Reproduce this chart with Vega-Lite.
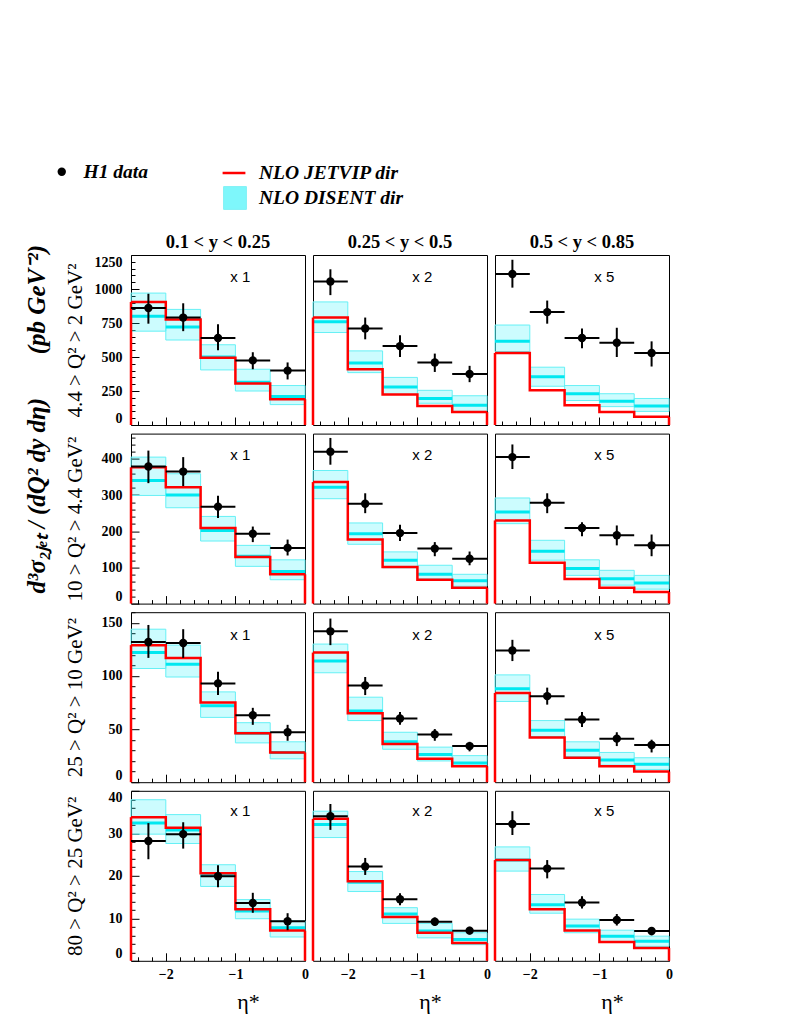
{
"$schema": "https://vega.github.io/schema/vega-lite/v6.json",
"padding": {"left": 24, "top": 160, "right": 5, "bottom": 5},
"background": "white",
"title": {"text": "d³σ₂ⱼₑₜ / (dQ² dy dη)\u00a0\u00a0\u00a0\u00a0\u00a0\u00a0\u00a0(pb GeV⁻²)", "orient": "left", "anchor": "end", "frame": "group", "font": "Liberation Serif", "fontSize": 25, "fontWeight": "bold", "fontStyle": "italic", "offset": 2, "dx": 10, "color": "#000"},
"datasets": {"h1": [
{"q":"r1","c":"0.1 < y < 0.25","f":"x 1","lo":-2.5,"hi":-2,"mid":-2.25,"d":860,"dl":745,"dh":965,"j":905,"m":800,"ml":690,"mh":970},
{"q":"r1","c":"0.1 < y < 0.25","f":"x 1","lo":-2,"hi":-1.5,"mid":-1.75,"d":790,"dl":690,"dh":895,"j":775,"m":720,"ml":625,"mh":850},
{"q":"r1","c":"0.1 < y < 0.25","f":"x 1","lo":-1.5,"hi":-1,"mid":-1.25,"d":640,"dl":550,"dh":740,"j":495,"m":500,"ml":405,"mh":590},
{"q":"r1","c":"0.1 < y < 0.25","f":"x 1","lo":-1,"hi":-0.5,"mid":-0.75,"d":475,"dl":410,"dh":535,"j":305,"m":315,"ml":250,"mh":410},
{"q":"r1","c":"0.1 < y < 0.25","f":"x 1","lo":-0.5,"hi":0,"mid":-0.25,"d":400,"dl":335,"dh":460,"j":190,"m":210,"ml":150,"mh":290},
{"q":"r1","c":"0.25 < y < 0.5","f":"x 2","lo":-2.5,"hi":-2,"mid":-2.25,"d":1055,"dl":955,"dh":1145,"j":790,"m":760,"ml":680,"mh":905},
{"q":"r1","c":"0.25 < y < 0.5","f":"x 2","lo":-2,"hi":-1.5,"mid":-1.75,"d":710,"dl":630,"dh":790,"j":410,"m":455,"ml":385,"mh":545},
{"q":"r1","c":"0.25 < y < 0.5","f":"x 2","lo":-1.5,"hi":-1,"mid":-1.25,"d":580,"dl":500,"dh":660,"j":225,"m":280,"ml":225,"mh":350},
{"q":"r1","c":"0.25 < y < 0.5","f":"x 2","lo":-1,"hi":-0.5,"mid":-0.75,"d":460,"dl":390,"dh":525,"j":140,"m":195,"ml":160,"mh":255},
{"q":"r1","c":"0.25 < y < 0.5","f":"x 2","lo":-0.5,"hi":0,"mid":-0.25,"d":375,"dl":315,"dh":435,"j":95,"m":145,"ml":100,"mh":215},
{"q":"r1","c":"0.5 < y < 0.85","f":"x 5","lo":-2.5,"hi":-2,"mid":-2.25,"d":1110,"dl":1010,"dh":1215,"j":530,"m":615,"ml":540,"mh":735},
{"q":"r1","c":"0.5 < y < 0.85","f":"x 5","lo":-2,"hi":-1.5,"mid":-1.75,"d":830,"dl":745,"dh":915,"j":255,"m":355,"ml":285,"mh":425},
{"q":"r1","c":"0.5 < y < 0.85","f":"x 5","lo":-1.5,"hi":-1,"mid":-1.25,"d":640,"dl":565,"dh":710,"j":145,"m":230,"ml":180,"mh":290},
{"q":"r1","c":"0.5 < y < 0.85","f":"x 5","lo":-1,"hi":-0.5,"mid":-0.75,"d":605,"dl":500,"dh":715,"j":95,"m":175,"ml":135,"mh":230},
{"q":"r1","c":"0.5 < y < 0.85","f":"x 5","lo":-0.5,"hi":0,"mid":-0.25,"d":530,"dl":430,"dh":615,"j":60,"m":140,"ml":100,"mh":195},
{"q":"r2","c":"0.1 < y < 0.25","f":"x 1","lo":-2.5,"hi":-2,"mid":-2.25,"d":379,"dl":333,"dh":423,"j":377,"m":340,"ml":299,"mh":405},
{"q":"r2","c":"0.1 < y < 0.25","f":"x 1","lo":-2,"hi":-1.5,"mid":-1.75,"d":365,"dl":325,"dh":405,"j":322,"m":300,"ml":265,"mh":359},
{"q":"r2","c":"0.1 < y < 0.25","f":"x 1","lo":-1.5,"hi":-1,"mid":-1.25,"d":268,"dl":237,"dh":298,"j":209,"m":202,"ml":173,"mh":241},
{"q":"r2","c":"0.1 < y < 0.25","f":"x 1","lo":-1,"hi":-0.5,"mid":-0.75,"d":193,"dl":170,"dh":213,"j":129,"m":131,"ml":103,"mh":161},
{"q":"r2","c":"0.1 < y < 0.25","f":"x 1","lo":-0.5,"hi":0,"mid":-0.25,"d":154,"dl":133,"dh":177,"j":81,"m":89,"ml":66,"mh":121},
{"q":"r2","c":"0.25 < y < 0.5","f":"x 2","lo":-2.5,"hi":-2,"mid":-2.25,"d":420,"dl":384,"dh":458,"j":336,"m":322,"ml":290,"mh":368},
{"q":"r2","c":"0.25 < y < 0.5","f":"x 2","lo":-2,"hi":-1.5,"mid":-1.75,"d":276,"dl":250,"dh":305,"j":177,"m":193,"ml":164,"mh":223},
{"q":"r2","c":"0.25 < y < 0.5","f":"x 2","lo":-1.5,"hi":-1,"mid":-1.25,"d":195,"dl":173,"dh":218,"j":101,"m":120,"ml":99,"mh":143},
{"q":"r2","c":"0.25 < y < 0.5","f":"x 2","lo":-1,"hi":-0.5,"mid":-0.75,"d":152,"dl":131,"dh":170,"j":66,"m":81,"ml":68,"mh":106},
{"q":"r2","c":"0.25 < y < 0.5","f":"x 2","lo":-0.5,"hi":0,"mid":-0.25,"d":124,"dl":106,"dh":144,"j":44,"m":63,"ml":48,"mh":81},
{"q":"r2","c":"0.5 < y < 0.85","f":"x 5","lo":-2.5,"hi":-2,"mid":-2.25,"d":405,"dl":372,"dh":440,"j":230,"m":253,"ml":221,"mh":292},
{"q":"r2","c":"0.5 < y < 0.85","f":"x 5","lo":-2,"hi":-1.5,"mid":-1.75,"d":279,"dl":250,"dh":305,"j":113,"m":145,"ml":120,"mh":175},
{"q":"r2","c":"0.5 < y < 0.85","f":"x 5","lo":-1.5,"hi":-1,"mid":-1.25,"d":209,"dl":186,"dh":225,"j":68,"m":97,"ml":78,"mh":121},
{"q":"r2","c":"0.5 < y < 0.85","f":"x 5","lo":-1,"hi":-0.5,"mid":-0.75,"d":189,"dl":161,"dh":216,"j":44,"m":69,"ml":51,"mh":92},
{"q":"r2","c":"0.5 < y < 0.85","f":"x 5","lo":-0.5,"hi":0,"mid":-0.25,"d":161,"dl":131,"dh":191,"j":32,"m":57,"ml":40,"mh":78},
{"q":"r3","c":"0.1 < y < 0.25","f":"x 1","lo":-2.5,"hi":-2,"mid":-2.25,"d":132,"dl":117,"dh":148,"j":129,"m":122,"ml":107,"mh":144},
{"q":"r3","c":"0.1 < y < 0.25","f":"x 1","lo":-2,"hi":-1.5,"mid":-1.75,"d":131,"dl":117,"dh":144,"j":117,"m":111,"ml":99,"mh":129},
{"q":"r3","c":"0.1 < y < 0.25","f":"x 1","lo":-1.5,"hi":-1,"mid":-1.25,"d":93,"dl":82,"dh":104,"j":75,"m":72,"ml":61,"mh":85},
{"q":"r3","c":"0.1 < y < 0.25","f":"x 1","lo":-1,"hi":-0.5,"mid":-0.75,"d":63,"dl":54,"dh":70,"j":46,"m":46,"ml":37,"mh":56},
{"q":"r3","c":"0.1 < y < 0.25","f":"x 1","lo":-0.5,"hi":0,"mid":-0.25,"d":47,"dl":39,"dh":54,"j":28,"m":28,"ml":22,"mh":38},
{"q":"r3","c":"0.25 < y < 0.5","f":"x 2","lo":-2.5,"hi":-2,"mid":-2.25,"d":142,"dl":129,"dh":154,"j":122,"m":114,"ml":103,"mh":130},
{"q":"r3","c":"0.25 < y < 0.5","f":"x 2","lo":-2,"hi":-1.5,"mid":-1.75,"d":91,"dl":82,"dh":99,"j":65,"m":67,"ml":58,"mh":80},
{"q":"r3","c":"0.25 < y < 0.5","f":"x 2","lo":-1.5,"hi":-1,"mid":-1.25,"d":60,"dl":54,"dh":66,"j":36,"m":38,"ml":31,"mh":47},
{"q":"r3","c":"0.25 < y < 0.5","f":"x 2","lo":-1,"hi":-0.5,"mid":-0.75,"d":45,"dl":39,"dh":50,"j":22,"m":26,"ml":20,"mh":33},
{"q":"r3","c":"0.25 < y < 0.5","f":"x 2","lo":-0.5,"hi":0,"mid":-0.25,"d":34,"dl":29,"dh":38,"j":15,"m":18,"ml":15,"mh":25},
{"q":"r3","c":"0.5 < y < 0.85","f":"x 5","lo":-2.5,"hi":-2,"mid":-2.25,"d":124,"dl":114,"dh":134,"j":84,"m":88,"ml":76,"mh":101},
{"q":"r3","c":"0.5 < y < 0.85","f":"x 5","lo":-2,"hi":-1.5,"mid":-1.75,"d":81,"dl":73,"dh":89,"j":42,"m":49,"ml":43,"mh":58},
{"q":"r3","c":"0.5 < y < 0.85","f":"x 5","lo":-1.5,"hi":-1,"mid":-1.25,"d":59,"dl":52,"dh":66,"j":23,"m":30,"ml":24,"mh":38},
{"q":"r3","c":"0.5 < y < 0.85","f":"x 5","lo":-1,"hi":-0.5,"mid":-0.75,"d":41,"dl":34,"dh":47,"j":15,"m":21,"ml":16,"mh":28},
{"q":"r3","c":"0.5 < y < 0.85","f":"x 5","lo":-0.5,"hi":0,"mid":-0.25,"d":35,"dl":28,"dh":40,"j":10,"m":17,"ml":12,"mh":23},
{"q":"r4","c":"0.1 < y < 0.25","f":"x 1","lo":-2.5,"hi":-2,"mid":-2.25,"d":28.2,"dl":23.9,"dh":32.4,"j":33.8,"m":32.4,"ml":29.8,"mh":37.9},
{"q":"r4","c":"0.1 < y < 0.25","f":"x 1","lo":-2,"hi":-1.5,"mid":-1.75,"d":29.8,"dl":26.4,"dh":32.6,"j":31.3,"m":30.8,"ml":27.6,"mh":34.4},
{"q":"r4","c":"0.1 < y < 0.25","f":"x 1","lo":-1.5,"hi":-1,"mid":-1.25,"d":19.9,"dl":17.3,"dh":22.5,"j":20.6,"m":20.1,"ml":17.5,"mh":22.6},
{"q":"r4","c":"0.1 < y < 0.25","f":"x 1","lo":-1,"hi":-0.5,"mid":-0.75,"d":13.6,"dl":11.3,"dh":16,"j":12.1,"m":11.7,"ml":9.9,"mh":14.4},
{"q":"r4","c":"0.1 < y < 0.25","f":"x 1","lo":-0.5,"hi":0,"mid":-0.25,"d":9.3,"dl":7.2,"dh":11.2,"j":7.1,"m":7.8,"ml":5.6,"mh":9.4},
{"q":"r4","c":"0.25 < y < 0.5","f":"x 2","lo":-2.5,"hi":-2,"mid":-2.25,"d":34,"dl":30.8,"dh":36.9,"j":33.4,"m":32.1,"ml":29,"mh":35.2},
{"q":"r4","c":"0.25 < y < 0.5","f":"x 2","lo":-2,"hi":-1.5,"mid":-1.75,"d":22.2,"dl":20.2,"dh":24.2,"j":18.7,"m":18.5,"ml":16.3,"mh":21},
{"q":"r4","c":"0.25 < y < 0.5","f":"x 2","lo":-1.5,"hi":-1,"mid":-1.25,"d":14.5,"dl":13.1,"dh":15.9,"j":10.3,"m":11,"ml":8.8,"mh":12.5},
{"q":"r4","c":"0.25 < y < 0.5","f":"x 2","lo":-1,"hi":-0.5,"mid":-0.75,"d":9.2,"dl":8.2,"dh":10.2,"j":6.6,"m":7,"ml":5.4,"mh":8.8},
{"q":"r4","c":"0.25 < y < 0.5","f":"x 2","lo":-0.5,"hi":0,"mid":-0.25,"d":7.1,"dl":6.2,"dh":8,"j":4.2,"m":5,"ml":3.8,"mh":6.6},
{"q":"r4","c":"0.5 < y < 0.85","f":"x 5","lo":-2.5,"hi":-2,"mid":-2.25,"d":32.2,"dl":29.6,"dh":35.2,"j":23.7,"m":23.7,"ml":21.1,"mh":26.8},
{"q":"r4","c":"0.5 < y < 0.85","f":"x 5","lo":-2,"hi":-1.5,"mid":-1.75,"d":21.7,"dl":19.4,"dh":23.7,"j":12.1,"m":13.2,"ml":11.2,"mh":15.6},
{"q":"r4","c":"0.5 < y < 0.85","f":"x 5","lo":-1.5,"hi":-1,"mid":-1.25,"d":13.7,"dl":12.3,"dh":15.2,"j":7.1,"m":8.2,"ml":6.6,"mh":9.8},
{"q":"r4","c":"0.5 < y < 0.85","f":"x 5","lo":-1,"hi":-0.5,"mid":-0.75,"d":9.6,"dl":8.3,"dh":11,"j":4.4,"m":5.8,"ml":4.4,"mh":7.2},
{"q":"r4","c":"0.5 < y < 0.85","f":"x 5","lo":-0.5,"hi":0,"mid":-0.25,"d":7.0,"dl":6,"dh":7.8,"j":3.0,"m":4.6,"ml":3.4,"mh":5.8}
]},
"data": {"name": "h1"},
"spacing": 5.6,
"vconcat": [
{
 "transform": [{"filter": "datum.q === 'r1'"}],
 "facet": {"column": {"field": "c", "type": "nominal", "title": null, "sort": ["0.1 < y < 0.25", "0.25 < y < 0.5", "0.5 < y < 0.85"], "header": {"labelFont": "Liberation Serif", "labelFontWeight": "bold", "labelFontSize": 18.5, "labelPadding": 4, "labelColor": "#000"}}},
 "bounds": "flush",
 "spacing": 8,
 "spec": {"width": 174, "height": 170, "resolve": {"axis": {"x": "independent", "y": "independent"}}, "layer": [
  {"mark": {"type": "rect", "fillOpacity": 0.2, "stroke": "#66f0f5", "strokeWidth": 1},
   "encoding": {
    "x": {"field": "lo", "type": "quantitative", "scale": {"domain": [-2.5, 0], "nice": false, "zero": false},
      "axis": {"orient": "bottom", "values": [-2, -1, 0], "labels": false, "title": null, "tickSize": -8}},
    "x2": {"field": "hi"},
    "y": {"field": "ml", "type": "quantitative", "scale": {"domain": [0, 1250], "nice": false, "zero": true},
      "axis": {"orient": "left", "values": [0, 250, 500, 750, 1000, 1250], "format": "d", "labelFlush": true, "labelOverlap": false, "labelPadding": 17, "labelFont": "Liberation Serif", "labelFontWeight": "bold", "labelFontSize": 14, "tickSize": -8, "title": "4.4 > Q² > 2 GeV²", "titleFont": "Liberation Serif", "titleFontSize": 21, "titleFontWeight": "normal", "titleX": -46}},
    "y2": {"field": "mh"},
    "fill": {"datum": "NLO DISENT dir", "scale": {"range": ["#00f0f8"]}, "legend": {"orient": "none", "legendX": 92, "legendY": -69, "title": null, "symbolType": "square", "symbolSize": 520, "symbolStrokeColor": "#00e5ee", "symbolStrokeWidth": 1, "symbolOpacity": 0.5, "labelFont": "Liberation Serif", "labelFontStyle": "italic", "labelFontWeight": "bold", "labelFontSize": 19.5, "labelOffset": 12, "labelColor": "#000"}}
   }},
  {"mark": {"type": "rule", "color": "#00e8f0", "strokeWidth": 3},
   "encoding": {"x": {"field": "lo", "type": "quantitative", "scale": {"domain": [-2.5, 0]}, "axis": {"orient": "bottom", "values": [-2.4,-2.2,-1.8,-1.6,-1.4,-1.2,-0.8,-0.6,-0.4,-0.2], "labels": false, "title": null, "tickSize": -4}}, "x2": {"field": "hi"},
    "y": {"field": "m", "type": "quantitative", "scale": {"domain": [0, 1250]}, "axis": {"orient": "left", "values": [50,100,150,200,300,350,400,450,550,600,650,700,800,850,900,950,1050,1100,1150,1200], "labels": false, "title": null, "tickSize": -4}}}},
  {"transform": [{"fold": ["lo", "hi"], "as": ["k", "xv"]}],
   "mark": {"type": "line", "strokeWidth": 2.5},
   "encoding": {"x": {"field": "xv", "type": "quantitative", "scale": {"domain": [-2.5, 0]}, "axis": null}, "y": {"field": "j", "type": "quantitative", "scale": {"domain": [0, 1250]}, "axis": null},
    "order": [{"field": "lo", "type": "quantitative"}, {"field": "k", "sort": "descending"}],
    "stroke": {"datum": "NLO JETVIP dir", "scale": {"range": ["#ff0000"]}, "legend": {"orient": "none", "legendX": 90, "legendY": -95, "title": null, "symbolType": "stroke", "symbolSize": 520, "symbolStrokeWidth": 2.5, "labelFont": "Liberation Serif", "labelFontStyle": "italic", "labelFontWeight": "bold", "labelFontSize": 19.5, "labelOffset": 12, "labelColor": "#000"}}}},
  {"transform": [{"filter": "datum.lo === -2.5"}], "mark": {"type": "rule", "color": "#ff0000", "strokeWidth": 2.5},
   "encoding": {"x": {"field": "lo", "type": "quantitative", "scale": {"domain": [-2.5, 0]}, "axis": null}, "y": {"field": "j", "type": "quantitative", "scale": {"domain": [0, 1250]}, "axis": null}, "y2": {"datum": 0}}},
  {"transform": [{"filter": "datum.hi === 0"}], "mark": {"type": "rule", "color": "#ff0000", "strokeWidth": 2.5},
   "encoding": {"x": {"field": "hi", "type": "quantitative", "scale": {"domain": [-2.5, 0]}, "axis": null}, "y": {"field": "j", "type": "quantitative", "scale": {"domain": [0, 1250]}, "axis": null}, "y2": {"datum": 0}}},
  {"mark": {"type": "rule", "color": "#000", "strokeWidth": 2},
   "encoding": {"x": {"field": "mid", "type": "quantitative", "scale": {"domain": [-2.5, 0]}, "axis": null}, "y": {"field": "dl", "type": "quantitative", "scale": {"domain": [0, 1250]}, "axis": null}, "y2": {"field": "dh"}}},
  {"mark": {"type": "rule", "color": "#000", "strokeWidth": 2},
   "encoding": {"x": {"field": "lo", "type": "quantitative", "scale": {"domain": [-2.5, 0]}, "axis": null}, "x2": {"field": "hi"}, "y": {"field": "d", "type": "quantitative", "scale": {"domain": [0, 1250]}, "axis": null}}},
  {"mark": {"type": "point", "filled": true, "color": "#000", "size": 70, "opacity": 1},
   "encoding": {"x": {"field": "mid", "type": "quantitative", "scale": {"domain": [-2.5, 0]}, "axis": null}, "y": {"field": "d", "type": "quantitative", "scale": {"domain": [0, 1250]}, "axis": null},
    "shape": {"datum": "H1 data", "scale": {"range": ["circle"]}, "legend": {"orient": "none", "legendX": -79, "legendY": -93, "title": null, "symbolSize": 70, "symbolFillColor": "#000", "symbolStrokeColor": "#000", "labelFont": "Liberation Serif", "labelFontStyle": "italic", "labelFontWeight": "bold", "labelFontSize": 19.5, "labelOffset": 12, "labelColor": "#000"}}}},
  {"transform": [{"filter": "datum.lo === -2.5"}], "mark": {"type": "text", "font": "Liberation Sans", "fontSize": 15, "baseline": "middle", "align": "center", "color": "#000"},
   "encoding": {"x": {"datum": -0.93, "type": "quantitative", "scale": {"domain": [-2.5, 0]}, "axis": null}, "y": {"datum": 1090, "type": "quantitative", "scale": {"domain": [0, 1250]}, "axis": null}, "text": {"field": "f"}}}
 ]}
},
{
 "transform": [{"filter": "datum.q === 'r2'"}],
 "facet": {"column": {"field": "c", "type": "nominal", "title": null, "sort": ["0.1 < y < 0.25", "0.25 < y < 0.5", "0.5 < y < 0.85"], "header": {"labels": false}}},
 "bounds": "flush",
 "spacing": 8,
 "spec": {"width": 174, "height": 170, "resolve": {"axis": {"x": "independent", "y": "independent"}}, "layer": [
  {"mark": {"type": "rect", "fill": "#00f0f8", "fillOpacity": 0.2, "stroke": "#66f0f5", "strokeWidth": 1},
   "encoding": {
    "x": {"field": "lo", "type": "quantitative", "scale": {"domain": [-2.5, 0], "nice": false, "zero": false},
      "axis": {"orient": "bottom", "values": [-2, -1, 0], "labels": false, "title": null, "tickSize": -8}},
    "x2": {"field": "hi"},
    "y": {"field": "ml", "type": "quantitative", "scale": {"domain": [0, 470], "nice": false, "zero": true},
      "axis": {"orient": "left", "values": [0, 100, 200, 300, 400], "format": "d", "labelFlush": true, "labelOverlap": false, "labelPadding": 17, "labelFont": "Liberation Serif", "labelFontWeight": "bold", "labelFontSize": 14, "tickSize": -8, "title": "10 > Q² > 4.4 GeV²", "titleFont": "Liberation Serif", "titleFontSize": 21, "titleFontWeight": "normal", "titleX": -46}},
    "y2": {"field": "mh"}
   }},
  {"mark": {"type": "rule", "color": "#00e8f0", "strokeWidth": 3},
   "encoding": {"x": {"field": "lo", "type": "quantitative", "scale": {"domain": [-2.5, 0]}, "axis": {"orient": "bottom", "values": [-2.4,-2.2,-1.8,-1.6,-1.4,-1.2,-0.8,-0.6,-0.4,-0.2], "labels": false, "title": null, "tickSize": -4}}, "x2": {"field": "hi"},
    "y": {"field": "m", "type": "quantitative", "scale": {"domain": [0, 470]}, "axis": {"orient": "left", "values": [20,40,60,80,120,140,160,180,220,240,260,280,320,340,360,380,420,440,460], "labels": false, "title": null, "tickSize": -4}}}},
  {"transform": [{"fold": ["lo", "hi"], "as": ["k", "xv"]}],
   "mark": {"type": "line", "strokeWidth": 2.5, "color": "#ff0000"},
   "encoding": {"x": {"field": "xv", "type": "quantitative", "scale": {"domain": [-2.5, 0]}, "axis": null}, "y": {"field": "j", "type": "quantitative", "scale": {"domain": [0, 470]}, "axis": null},
    "order": [{"field": "lo", "type": "quantitative"}, {"field": "k", "sort": "descending"}]}},
  {"transform": [{"filter": "datum.lo === -2.5"}], "mark": {"type": "rule", "color": "#ff0000", "strokeWidth": 2.5},
   "encoding": {"x": {"field": "lo", "type": "quantitative", "scale": {"domain": [-2.5, 0]}, "axis": null}, "y": {"field": "j", "type": "quantitative", "scale": {"domain": [0, 470]}, "axis": null}, "y2": {"datum": 0}}},
  {"transform": [{"filter": "datum.hi === 0"}], "mark": {"type": "rule", "color": "#ff0000", "strokeWidth": 2.5},
   "encoding": {"x": {"field": "hi", "type": "quantitative", "scale": {"domain": [-2.5, 0]}, "axis": null}, "y": {"field": "j", "type": "quantitative", "scale": {"domain": [0, 470]}, "axis": null}, "y2": {"datum": 0}}},
  {"mark": {"type": "rule", "color": "#000", "strokeWidth": 2},
   "encoding": {"x": {"field": "mid", "type": "quantitative", "scale": {"domain": [-2.5, 0]}, "axis": null}, "y": {"field": "dl", "type": "quantitative", "scale": {"domain": [0, 470]}, "axis": null}, "y2": {"field": "dh"}}},
  {"mark": {"type": "rule", "color": "#000", "strokeWidth": 2},
   "encoding": {"x": {"field": "lo", "type": "quantitative", "scale": {"domain": [-2.5, 0]}, "axis": null}, "x2": {"field": "hi"}, "y": {"field": "d", "type": "quantitative", "scale": {"domain": [0, 470]}, "axis": null}}},
  {"mark": {"type": "point", "filled": true, "color": "#000", "size": 70, "opacity": 1, "shape": "circle"},
   "encoding": {"x": {"field": "mid", "type": "quantitative", "scale": {"domain": [-2.5, 0]}, "axis": null}, "y": {"field": "d", "type": "quantitative", "scale": {"domain": [0, 470]}, "axis": null}}},
  {"transform": [{"filter": "datum.lo === -2.5"}], "mark": {"type": "text", "font": "Liberation Sans", "fontSize": 15, "baseline": "middle", "align": "center", "color": "#000"},
   "encoding": {"x": {"datum": -0.93, "type": "quantitative", "scale": {"domain": [-2.5, 0]}, "axis": null}, "y": {"datum": 412, "type": "quantitative", "scale": {"domain": [0, 470]}, "axis": null}, "text": {"field": "f"}}}
 ]}
},
{
 "transform": [{"filter": "datum.q === 'r3'"}],
 "facet": {"column": {"field": "c", "type": "nominal", "title": null, "sort": ["0.1 < y < 0.25", "0.25 < y < 0.5", "0.5 < y < 0.85"], "header": {"labels": false}}},
 "bounds": "flush",
 "spacing": 8,
 "spec": {"width": 174, "height": 170, "resolve": {"axis": {"x": "independent", "y": "independent"}}, "layer": [
  {"mark": {"type": "rect", "fill": "#00f0f8", "fillOpacity": 0.2, "stroke": "#66f0f5", "strokeWidth": 1},
   "encoding": {
    "x": {"field": "lo", "type": "quantitative", "scale": {"domain": [-2.5, 0], "nice": false, "zero": false},
      "axis": {"orient": "bottom", "values": [-2, -1, 0], "labels": false, "title": null, "tickSize": -8}},
    "x2": {"field": "hi"},
    "y": {"field": "ml", "type": "quantitative", "scale": {"domain": [0, 160], "nice": false, "zero": true},
      "axis": {"orient": "left", "values": [0, 50, 100, 150], "format": "d", "labelFlush": true, "labelOverlap": false, "labelPadding": 17, "labelFont": "Liberation Serif", "labelFontWeight": "bold", "labelFontSize": 14, "tickSize": -8, "title": "25 > Q² > 10 GeV²", "titleFont": "Liberation Serif", "titleFontSize": 21, "titleFontWeight": "normal", "titleX": -46}},
    "y2": {"field": "mh"}
   }},
  {"mark": {"type": "rule", "color": "#00e8f0", "strokeWidth": 3},
   "encoding": {"x": {"field": "lo", "type": "quantitative", "scale": {"domain": [-2.5, 0]}, "axis": {"orient": "bottom", "values": [-2.4,-2.2,-1.8,-1.6,-1.4,-1.2,-0.8,-0.6,-0.4,-0.2], "labels": false, "title": null, "tickSize": -4}}, "x2": {"field": "hi"},
    "y": {"field": "m", "type": "quantitative", "scale": {"domain": [0, 160]}, "axis": {"orient": "left", "values": [10,20,30,40,60,70,80,90,110,120,130,140,160], "labels": false, "title": null, "tickSize": -4}}}},
  {"transform": [{"fold": ["lo", "hi"], "as": ["k", "xv"]}],
   "mark": {"type": "line", "strokeWidth": 2.5, "color": "#ff0000"},
   "encoding": {"x": {"field": "xv", "type": "quantitative", "scale": {"domain": [-2.5, 0]}, "axis": null}, "y": {"field": "j", "type": "quantitative", "scale": {"domain": [0, 160]}, "axis": null},
    "order": [{"field": "lo", "type": "quantitative"}, {"field": "k", "sort": "descending"}]}},
  {"transform": [{"filter": "datum.lo === -2.5"}], "mark": {"type": "rule", "color": "#ff0000", "strokeWidth": 2.5},
   "encoding": {"x": {"field": "lo", "type": "quantitative", "scale": {"domain": [-2.5, 0]}, "axis": null}, "y": {"field": "j", "type": "quantitative", "scale": {"domain": [0, 160]}, "axis": null}, "y2": {"datum": 0}}},
  {"transform": [{"filter": "datum.hi === 0"}], "mark": {"type": "rule", "color": "#ff0000", "strokeWidth": 2.5},
   "encoding": {"x": {"field": "hi", "type": "quantitative", "scale": {"domain": [-2.5, 0]}, "axis": null}, "y": {"field": "j", "type": "quantitative", "scale": {"domain": [0, 160]}, "axis": null}, "y2": {"datum": 0}}},
  {"mark": {"type": "rule", "color": "#000", "strokeWidth": 2},
   "encoding": {"x": {"field": "mid", "type": "quantitative", "scale": {"domain": [-2.5, 0]}, "axis": null}, "y": {"field": "dl", "type": "quantitative", "scale": {"domain": [0, 160]}, "axis": null}, "y2": {"field": "dh"}}},
  {"mark": {"type": "rule", "color": "#000", "strokeWidth": 2},
   "encoding": {"x": {"field": "lo", "type": "quantitative", "scale": {"domain": [-2.5, 0]}, "axis": null}, "x2": {"field": "hi"}, "y": {"field": "d", "type": "quantitative", "scale": {"domain": [0, 160]}, "axis": null}}},
  {"mark": {"type": "point", "filled": true, "color": "#000", "size": 70, "opacity": 1, "shape": "circle"},
   "encoding": {"x": {"field": "mid", "type": "quantitative", "scale": {"domain": [-2.5, 0]}, "axis": null}, "y": {"field": "d", "type": "quantitative", "scale": {"domain": [0, 160]}, "axis": null}}},
  {"transform": [{"filter": "datum.lo === -2.5"}], "mark": {"type": "text", "font": "Liberation Sans", "fontSize": 15, "baseline": "middle", "align": "center", "color": "#000"},
   "encoding": {"x": {"datum": -0.93, "type": "quantitative", "scale": {"domain": [-2.5, 0]}, "axis": null}, "y": {"datum": 139, "type": "quantitative", "scale": {"domain": [0, 160]}, "axis": null}, "text": {"field": "f"}}}
 ]}
},
{
 "transform": [{"filter": "datum.q === 'r4'"}],
 "facet": {"column": {"field": "c", "type": "nominal", "title": null, "sort": ["0.1 < y < 0.25", "0.25 < y < 0.5", "0.5 < y < 0.85"], "header": {"labels": false}}},
 "bounds": "flush",
 "spacing": 8,
 "spec": {"width": 174, "height": 170, "resolve": {"axis": {"x": "independent", "y": "independent"}}, "layer": [
  {"mark": {"type": "rect", "fill": "#00f0f8", "fillOpacity": 0.2, "stroke": "#66f0f5", "strokeWidth": 1},
   "encoding": {
    "x": {"field": "lo", "type": "quantitative", "scale": {"domain": [-2.5, 0], "nice": false, "zero": false},
      "axis": {"orient": "bottom", "values": [-2, -1, 0], "format": "d", "labelFlush": false, "labelOverlap": false, "labelPadding": 15, "labelFont": "Liberation Serif", "labelFontWeight": "bold", "labelFontSize": 14, "tickSize": -8, "title": "η*", "titleFont": "Liberation Serif", "titleFontSize": 22, "titleFontWeight": "normal", "titleX": 117, "titleY": 31}},
    "x2": {"field": "hi"},
    "y": {"field": "ml", "type": "quantitative", "scale": {"domain": [0, 40], "nice": false, "zero": true},
      "axis": {"orient": "left", "values": [0, 10, 20, 30, 40], "format": "d", "labelFlush": true, "labelOverlap": false, "labelPadding": 17, "labelFont": "Liberation Serif", "labelFontWeight": "bold", "labelFontSize": 14, "tickSize": -8, "title": "80 > Q² > 25 GeV²", "titleFont": "Liberation Serif", "titleFontSize": 21, "titleFontWeight": "normal", "titleX": -46}},
    "y2": {"field": "mh"}
   }},
  {"mark": {"type": "rule", "color": "#00e8f0", "strokeWidth": 3},
   "encoding": {"x": {"field": "lo", "type": "quantitative", "scale": {"domain": [-2.5, 0]}, "axis": {"orient": "bottom", "values": [-2.4,-2.2,-1.8,-1.6,-1.4,-1.2,-0.8,-0.6,-0.4,-0.2], "labels": false, "title": null, "tickSize": -4}}, "x2": {"field": "hi"},
    "y": {"field": "m", "type": "quantitative", "scale": {"domain": [0, 40]}, "axis": {"orient": "left", "values": [2,4,6,8,12,14,16,18,22,24,26,28,32,34,36,38], "labels": false, "title": null, "tickSize": -4}}}},
  {"transform": [{"fold": ["lo", "hi"], "as": ["k", "xv"]}],
   "mark": {"type": "line", "strokeWidth": 2.5, "color": "#ff0000"},
   "encoding": {"x": {"field": "xv", "type": "quantitative", "scale": {"domain": [-2.5, 0]}, "axis": null}, "y": {"field": "j", "type": "quantitative", "scale": {"domain": [0, 40]}, "axis": null},
    "order": [{"field": "lo", "type": "quantitative"}, {"field": "k", "sort": "descending"}]}},
  {"transform": [{"filter": "datum.lo === -2.5"}], "mark": {"type": "rule", "color": "#ff0000", "strokeWidth": 2.5},
   "encoding": {"x": {"field": "lo", "type": "quantitative", "scale": {"domain": [-2.5, 0]}, "axis": null}, "y": {"field": "j", "type": "quantitative", "scale": {"domain": [0, 40]}, "axis": null}, "y2": {"datum": 0}}},
  {"transform": [{"filter": "datum.hi === 0"}], "mark": {"type": "rule", "color": "#ff0000", "strokeWidth": 2.5},
   "encoding": {"x": {"field": "hi", "type": "quantitative", "scale": {"domain": [-2.5, 0]}, "axis": null}, "y": {"field": "j", "type": "quantitative", "scale": {"domain": [0, 40]}, "axis": null}, "y2": {"datum": 0}}},
  {"mark": {"type": "rule", "color": "#000", "strokeWidth": 2},
   "encoding": {"x": {"field": "mid", "type": "quantitative", "scale": {"domain": [-2.5, 0]}, "axis": null}, "y": {"field": "dl", "type": "quantitative", "scale": {"domain": [0, 40]}, "axis": null}, "y2": {"field": "dh"}}},
  {"mark": {"type": "rule", "color": "#000", "strokeWidth": 2},
   "encoding": {"x": {"field": "lo", "type": "quantitative", "scale": {"domain": [-2.5, 0]}, "axis": null}, "x2": {"field": "hi"}, "y": {"field": "d", "type": "quantitative", "scale": {"domain": [0, 40]}, "axis": null}}},
  {"mark": {"type": "point", "filled": true, "color": "#000", "size": 70, "opacity": 1, "shape": "circle"},
   "encoding": {"x": {"field": "mid", "type": "quantitative", "scale": {"domain": [-2.5, 0]}, "axis": null}, "y": {"field": "d", "type": "quantitative", "scale": {"domain": [0, 40]}, "axis": null}}},
  {"transform": [{"filter": "datum.lo === -2.5"}], "mark": {"type": "text", "font": "Liberation Sans", "fontSize": 15, "baseline": "middle", "align": "center", "color": "#000"},
   "encoding": {"x": {"datum": -0.93, "type": "quantitative", "scale": {"domain": [-2.5, 0]}, "axis": null}, "y": {"datum": 35.2, "type": "quantitative", "scale": {"domain": [0, 40]}, "axis": null}, "text": {"field": "f"}}}
 ]}
}
],
"config": {
 "view": {"stroke": "#000", "strokeWidth": 1},
 "font": "Liberation Serif",
 "axis": {"domain": false, "grid": false, "labelOverlap": false, "tickColor": "#000", "labelColor": "#000", "titleColor": "#000"}
}
}
